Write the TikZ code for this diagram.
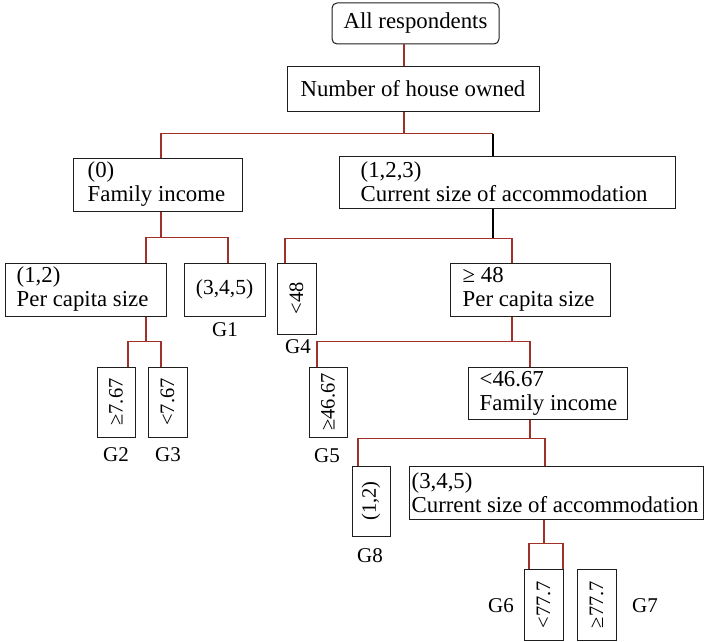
\documentclass[tikz,border=0pt]{standalone}
\usepackage{fontspec}
\setmainfont{Liberation Serif}
\definecolor{linkred}{RGB}{160,48,42}
\definecolor{boxline}{RGB}{30,30,30}
\begin{document}
\begin{tikzpicture}[x=1pt,y=-1pt,
  box/.style={draw=boxline, line width=1pt, inner sep=0pt},
  sz/.style 2 args={minimum width=#1pt, minimum height=#2pt},
  bigfont/.style={font=\fontsize{22.8}{24}\selectfont},
  midfont/.style={font=\fontsize{21.5}{24}\selectfont},
  vfont/.style={font=\fontsize{20.5}{22}\selectfont},
  intext/.style={anchor=west, inner sep=0pt, align=left, bigfont},
  gname/.style={anchor=base, inner sep=0pt, font=\fontsize{21}{24}\selectfont},
  link/.style={draw=linkred, line width=1.2pt},
  trunk/.style={draw=black, line width=1.1pt},
]
\useasboundingbox (0,0) rectangle (704,642);

% ---- decision boxes ----
\node[box, rounded corners=5pt, sz={167}{41}, bigfont] (root) at (415.5,23.5) {All respondents};
\node[box, sz={252}{44}, bigfont] (number) at (413,89) {Number of house owned};

\node[box, sz={169}{53}] (fam) at (157.5,184.5) {};
\node[intext] (famtxt) at ([xshift=15pt]fam.west) {(0)\\Family income};

\node[box, sz={336}{52}] (cur1) at (507,182) {};
\node[intext] (cur1txt) at ([xshift=22pt]cur1.west) {(1,2,3)\\Current size of accommodation};

\node[box, sz={161}{53}] (pc1) at (85.5,289.5) {};
\node[intext] (pc1txt) at ([xshift=12pt]pc1.west) {(1,2)\\Per capita size};

\node[box, sz={81}{53}, midfont] (g1box) at (224.5,289.5) {(3,4,5)};

\node[box, sz={39}{71}, vfont] (lt48) at (296.5,298.5) {\rotatebox{90}{<48}};

\node[box, sz={160}{53}] (ge48) at (530,289.5) {};
\node[intext] (ge48txt) at ([xshift=13pt]ge48.west) {≥ 48\\Per capita size};

\node[box, sz={38}{70}, vfont] (g2box) at (116,402) {\rotatebox{90}{≥7.67}};
\node[box, sz={39}{70}, vfont] (g3box) at (167.5,402) {\rotatebox{90}{<7.67}};

\node[box, sz={38}{70}, vfont] (ge4667) at (328,402) {\rotatebox{90}{≥46.67}};

\node[box, sz={159}{52}] (fi2) at (547.5,393) {};
\node[intext] (fi2txt) at ([xshift=12pt]fi2.west) {<46.67\\Family income};

\node[box, sz={38}{70}, vfont] (b12) at (371,501) {\rotatebox{90}{(1,2)}};

\node[box, sz={294}{53}] (cur2) at (556,492.5) {};
\node[intext] (cur2txt) at ([xshift=3pt]cur2.west) {(3,4,5)\\Current size of accommodation};

\node[box, sz={39}{71}, vfont] (g6) at (543.5,604.5) {\rotatebox{90}{<77.7}};
\node[box, sz={39}{71}, vfont] (g7) at (596.5,604.5) {\rotatebox{90}{≥77.7}};

% ---- group names ----
\node[gname] (G1) at (225,336) {G1};
\node[gname] (G2) at (116,461) {G2};
\node[gname] (G3) at (168,461) {G3};
\node[gname] (G4) at (298,353) {G4};
\node[gname] (G5) at (327,462) {G5};
\node[gname] (G8) at (370,562) {G8};
\node[gname] (G6) at (501,612) {G6};
\node[gname] (G7) at (645,612) {G7};

% ---- connectors ----
\draw[link] ([xshift=-11.5pt]root.south) -- ([xshift=-9pt]number.north);

\draw[link] ([xshift=-9pt]number.south) -- ++(0,22) coordinate (j1);
\coordinate (famin) at ([xshift=3.5pt]fam.north);
\coordinate (cur1in) at ([xshift=-14pt]cur1.north);
\draw[link] (famin) |- (j1) -- (j1 -| cur1in);
\draw[trunk] (j1 -| cur1in) -- (cur1in);

\draw[link] ([xshift=3.5pt]fam.south) -- ++(0,26) coordinate (j2);
\draw[link] ([xshift=60.5pt]pc1.north) |- (j2) -| ([xshift=3.5pt]g1box.north);

\draw[trunk] ([xshift=-14pt]cur1.south) -- ++(0,30) coordinate (j3);
\draw[link] ([xshift=-11.5pt]lt48.north) |- (j3) -| ([xshift=-18pt]ge48.north);

\draw[link] ([xshift=60.5pt]pc1.south) -- ++(0,25) coordinate (j4);
\draw[link] ([xshift=12pt]g2box.north) |- (j4) -| ([xshift=-6.5pt]g3box.north);

\draw[link] ([xshift=-18pt]ge48.south) -- ++(0,25) coordinate (j5);
\draw[link] ([xshift=-11pt]ge4667.north) |- (j5) -| ([xshift=-17.5pt]fi2.north);

\draw[link] ([xshift=-17.5pt]fi2.south) -- ++(0,19) coordinate (j6);
\draw[link] ([xshift=-13pt]b12.north) |- (j6) -| ([xshift=-11pt]cur2.north);

\draw[link] ([xshift=-12pt]cur2.south) -- ++(0,24) coordinate (j7);
\draw[link] ([xshift=-14.5pt]g6.north) |- (j7) -| ([xshift=19.5pt]g6.north);
\end{tikzpicture}
\end{document}
